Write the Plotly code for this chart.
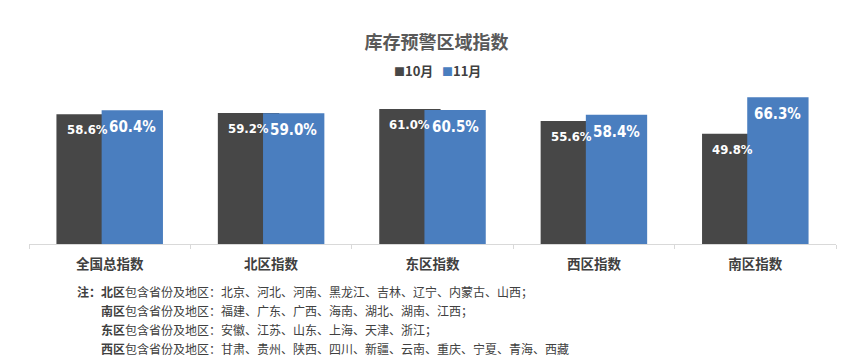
import plotly.graph_objects as go

categories = ["全国总指数", "北区指数", "东区指数", "西区指数", "南区指数"]
oct_values = [58.6, 59.2, 61.0, 55.6, 49.8]
nov_values = [60.4, 59.0, 60.5, 58.4, 66.3]
series_names = ["10月", "11月"]
title_text = "库存预警区域指数"
note_lines = [
    ("注：北区", "包含省份及地区：北京、河北、河南、黑龙江、吉林、辽宁、内蒙古、山西；"),
    ("南区", "包含省份及地区：福建、广东、广西、海南、湖北、湖南、江西；"),
    ("东区", "包含省份及地区：安徽、江苏、山东、上海、天津、浙江；"),
    ("西区", "包含省份及地区：甘肃、贵州、陕西、四川、新疆、云南、重庆、宁夏、青海、西藏"),
]

# the page body has a default 8px margin; work in page pixels and compensate
OFF = 8
W, H = 865 - OFF, 361 - OFF
PL, PR, PT, PB = 29, 836, 89, 244          # plot area in page pixels
ML, MR = PL - OFF, W - (PR - OFF)
MT, MB = PT - OFF, H - (PB - OFF)
plot_w = PR - PL
plot_h = PB - PT

DARK = "#474747"
BLUE = "#4A7EBF"
TXT = "#404040"
CJK = "Noto Sans CJK SC, Noto Sans, sans-serif"
NUM = "Liberation Sans Narrow, DejaVu Sans Condensed, DejaVu Sans, sans-serif"

bar_w = 0.38
offs = [-0.33, -0.05]
xs = list(range(len(categories)))

fig = go.Figure()
for name, vals, col, off in [(series_names[0], oct_values, DARK, offs[0]),
                             (series_names[1], nov_values, BLUE, offs[1])]:
    fig.add_trace(go.Bar(
        x=xs, y=vals, name=name, width=bar_w, offset=off,
        marker=dict(color=col, line=dict(width=0)),
        hoverinfo="x+y", showlegend=False,
    ))

annotations = []
for vals, off, size in [(oct_values, offs[0], 13), (nov_values, offs[1], 15)]:
    for i, v in enumerate(vals):
        annotations.append(dict(
            x=i + off + bar_w / 2, y=v, xref="x", yref="y",
            text=f"<span style='font-stretch:condensed'><b>{v:.1f}%</b></span>",
            showarrow=False,
            yanchor="top", xanchor="center", yshift=-6,
            font=dict(family=NUM, size=size, color="white"),
        ))

def px_x(p):
    return (p - PL) / plot_w

def px_y(p):
    return (PB - p) / plot_h

legend_items = [(series_names[0], DARK, 392), (series_names[1], BLUE, 440)]
for name, col, x0 in legend_items:
    annotations.append(dict(
        x=px_x(x0), y=px_y(71), xref="paper", yref="paper",
        text=f"<span style='color:{col};font-size:11px'>■</span><b>{name}</b>",
        showarrow=False, xanchor="left", yanchor="middle",
        font=dict(family=CJK, size=13, color=TXT),
    ))

note_y = [291, 310, 329, 348]
for k, ((bold, rest), yy) in enumerate(zip(note_lines, note_y)):
    x0 = 75 if k == 0 else 99
    annotations.append(dict(
        x=px_x(x0), y=px_y(yy), xref="paper", yref="paper",
        text=f"<b>{bold}</b>{rest}", showarrow=False,
        xanchor="left", yanchor="middle",
        font=dict(family=CJK, size=12, color=TXT),
    ))

fig.update_layout(
    width=W, height=H,
    margin=dict(l=ML, r=MR, t=MT, b=MB),
    paper_bgcolor="white", plot_bgcolor="white",
    barmode="overlay",
    title=dict(text=f"<b>{title_text}</b>", x=0.5, xanchor="center",
               y=1 - (43 - OFF) / H, yanchor="middle", yref="container",
               font=dict(family=CJK, size=18, color="#595959")),
    annotations=annotations,
    xaxis=dict(
        range=[-0.5, len(categories) - 0.5],
        tickvals=xs, ticktext=[f"<b>{c}</b>" for c in categories],
        tickfont=dict(family=CJK, size=13.5, color=TXT),
        ticks="", showgrid=False, zeroline=False,
        showline=True, linecolor="#D9D9D9", linewidth=1,
        ticklabelstandoff=8,
        minor=dict(tickvals=[i - 0.5 for i in range(len(categories) + 1)],
                   ticks="outside", ticklen=4, tickcolor="#D9D9D9", showgrid=False),
        fixedrange=True,
    ),
    yaxis=dict(range=[0, 70], visible=False, showgrid=False, zeroline=False, fixedrange=True),
    showlegend=False,
)

fig.write_html("out.html")
